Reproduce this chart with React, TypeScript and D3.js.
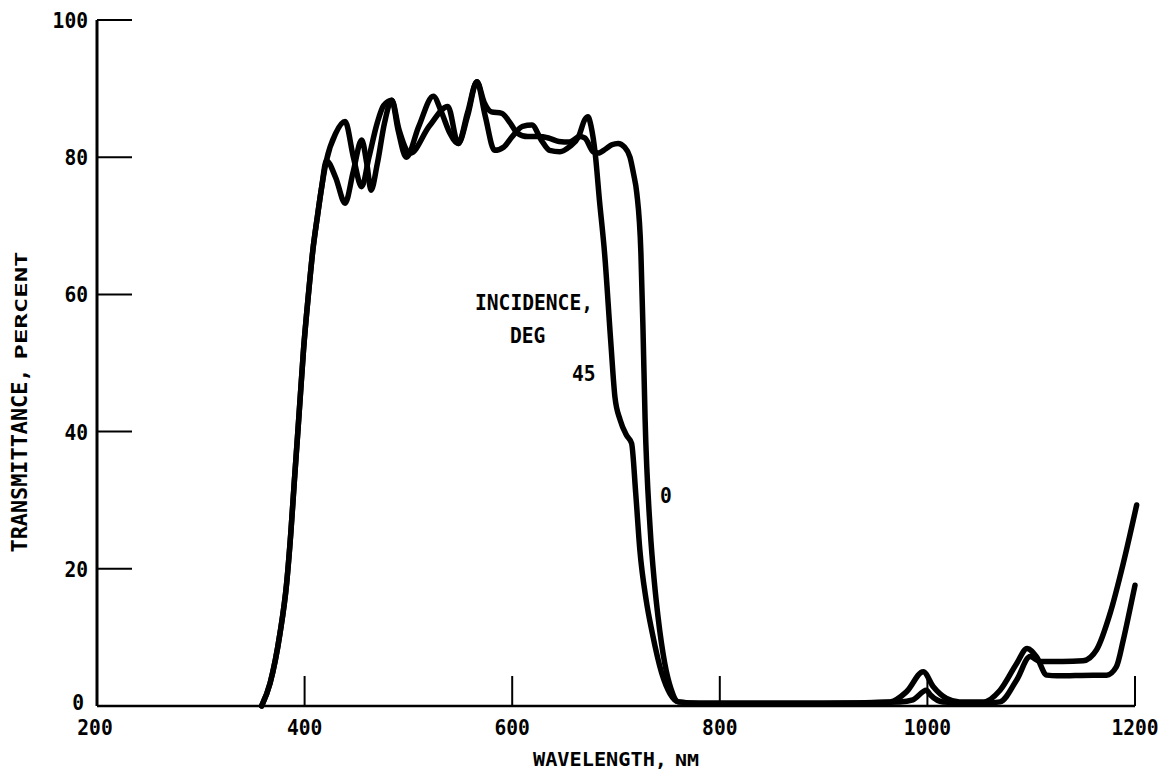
import React from "react";
import * as d3 from "d3";

// ---- data ----
const wl45 = [
  358.6, 366.7, 376.3, 382.7, 386.7, 390, 393.4, 395.6, 399, 404, 408, 412, 416.5, 421,
  430, 439, 447, 455, 462, 470, 476, 484, 490, 498, 510, 524, 532, 540, 548, 557, 566,
  574, 583, 592, 600, 610, 619, 628, 636, 646, 655, 664, 670, 673, 676, 680, 684, 689,
  695, 699, 704, 710, 715, 719, 723, 729, 735, 744, 752, 760, 780, 900, 964, 980, 996,
  1005.7, 1018.5, 1031, 1054, 1070, 1086, 1096, 1105, 1115, 1125, 1160, 1172.7, 1182,
  1188.7, 1195, 1200,
];
const t45 = [
  0, 3.3, 10.6, 17.9, 25.2, 32.5, 39.8, 44.6, 52, 60.5, 66.5, 71, 75.7, 79.5,
  83.5, 85.2, 80, 75.7, 80, 85, 87.5, 88.3, 84, 80, 84.5, 88.9, 86.5, 83.5, 82, 86, 91,
  86, 81, 81.5, 83, 84.5, 84.7, 82.5, 81, 80.8, 81.5, 83, 85.5, 85.9, 84.5, 80.5, 73.8, 66,
  53, 45, 41.7, 39.5, 38.3, 31, 22.7, 15.5, 10.6, 4.8, 1.8, 0.6, 0.4, 0.4, 0.6, 2.1, 5,
  2.8, 1.1, 0.6, 0.6, 2.3, 6.2, 8.4, 7.2, 4.5, 4.4, 4.5, 4.5, 5.7,
  9.6, 14, 17.6,
];

const wl0 = [
  358.6, 366.7, 376.3, 382.7, 386.7, 390, 393.4, 395.6, 399, 404, 408, 412, 416.5, 421,
  430, 439, 447, 455, 460, 464, 470, 477, 484, 491, 502, 520, 538, 548, 557, 566, 573,
  580, 590, 598, 605, 615, 625, 635, 645, 655, 665, 670, 678, 683, 690, 696, 702, 708,
  713.5, 717, 720, 724, 726, 728, 733, 737, 740.5, 747, 753, 760, 780, 900, 973.6, 986,
  999, 1003, 1015, 1054, 1070, 1086, 1099, 1108.5, 1130, 1150, 1163, 1176, 1188.7, 1201.6,
];
const t0 = [
  0, 3.3, 10.6, 17.9, 25.2, 32.5, 39.8, 44.6, 52, 60.5, 66.5, 71, 75.7, 79.5,
  77, 73.3, 78, 82.5, 79, 75.2, 79, 85, 88.3, 84, 80.6, 84.5, 87.4, 82, 86.5, 91, 88,
  86.6, 86.4, 85, 83.5, 83, 83, 82.8, 82.3, 82.2, 83, 82.8, 80.8, 80.6, 81.2, 81.8, 82, 81.5,
  80, 77.5, 74.8, 66, 55, 42, 25.6, 18, 13, 6.2, 2.5, 0.6, 0.4, 0.4, 0.6, 0.9,
  2.3, 1.6, 0.6, 0.4, 0.6, 3.8, 7.2, 6.5, 6.5, 6.6, 8.2, 13.5, 20.8, 29.3,
];

const yTicks = [0, 20, 40, 60, 80, 100];
const xTicks = [200, 400, 600, 800, 1000, 1200];

const FONT = "'DejaVu Sans Mono', 'DejaVu Sans', monospace";

export default function App() {
  const x = d3.scaleLinear().domain([200, 1200]).range([97, 1135]);
  const y = d3.scaleLinear().domain([0, 100]).range([706, 20]);

  const line = d3
    .line<[number, number]>()
    .x((d) => x(d[0]))
    .y((d) => y(d[1]))
    .curve(d3.curveMonotoneX);

  const s45 = wl45.map((w, i) => [w, t45[i]] as [number, number]);
  const s0 = wl0.map((w, i) => [w, t0[i]] as [number, number]);

  const charW = 11.8;
  const lab = (txt: string, props: any) => (
    <text
      fontFamily={FONT}
      fontWeight="bold"
      fontSize={22}
      textLength={txt.length * charW}
      lengthAdjust="spacingAndGlyphs"
      {...props}
    >
      {txt}
    </text>
  );

  return (
    <svg
      width={1171}
      height={775}
      style={{ position: "absolute", left: 0, top: 0, background: "#fff" }}
    >
      <rect x={0} y={0} width={1171} height={775} fill="#fff" />
      {/* y axis */}
      <line x1={x(200)} x2={x(200)} y1={y(100)} y2={y(0)} stroke="#000" strokeWidth={3} />
      {yTicks
        .filter((t) => t > 0)
        .map((t) => (
          <line key={"yt" + t} x1={x(200)} x2={x(200) + 35} y1={y(t)} y2={y(t)} stroke="#000" strokeWidth={2} />
        ))}
      {/* x axis */}
      <line x1={x(200)} x2={x(1200)} y1={y(0)} y2={y(0)} stroke="#000" strokeWidth={2.5} />
      {xTicks
        .filter((t) => t > 200)
        .map((t) => (
          <line key={"xt" + t} x1={x(t)} x2={x(t)} y1={y(0)} y2={y(0) - 30} stroke="#000" strokeWidth={2} />
        ))}

      {/* y tick labels */}
      {yTicks.map((t) =>
        lab(String(t), {
          key: "yl" + t,
          x: t === 0 ? 84 : 88,
          y: t === 0 ? y(t) + 4 : y(t) + 8,
          textAnchor: "end",
        })
      )}
      {/* x tick labels */}
      {xTicks.map((t) =>
        lab(String(t), {
          key: "xl" + t,
          x: t === 200 ? x(t) - 2 : x(t),
          y: 735,
          textAnchor: "middle",
        })
      )}

      {/* axis titles */}
      <text x={616} y={766} textAnchor="middle" fontFamily={FONT} fontWeight="bold" fontSize={20}>
        <tspan textLength={134} lengthAdjust="spacingAndGlyphs">WAVELENGTH,</tspan>
        <tspan fontSize={15} dx={8} textLength={24} lengthAdjust="spacingAndGlyphs">NM</tspan>
      </text>
      <text
        transform={`translate(27,402) rotate(-90)`}
        textAnchor="middle"
        fontFamily={FONT}
        fontWeight="bold"
        fontSize={21}
      >
        <tspan textLength={184} lengthAdjust="spacingAndGlyphs">TRANSMITTANCE,</tspan>
        <tspan fontSize={16} dx={9} textLength={108} lengthAdjust="spacingAndGlyphs">PERCENT</tspan>
      </text>

      {/* curves */}
      <path d={line(s45) || ""} fill="none" stroke="#000" strokeWidth={5.5} strokeLinejoin="round" strokeLinecap="round" />
      <path d={line(s0) || ""} fill="none" stroke="#000" strokeWidth={5.5} strokeLinejoin="round" strokeLinecap="round" />

      {/* annotations */}
      {lab("INCIDENCE,", { x: 475, y: 310 })}
      {lab("DEG", { x: 510, y: 343 })}
      {lab("45", { x: 572, y: 381 })}
      {lab("0", { x: 660, y: 503 })}
    </svg>
  );
}
